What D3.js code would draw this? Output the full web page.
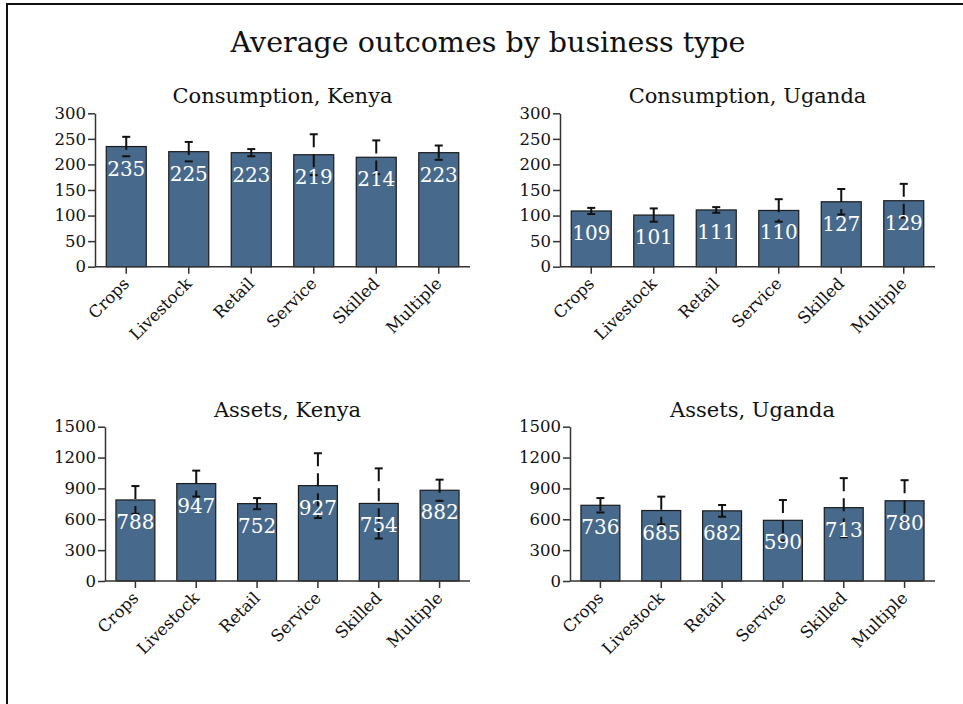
<!DOCTYPE html>
<html>
<head>
<meta charset="utf-8">
<script src="https://cdn.jsdelivr.net/npm/d3@7"></script>
<style>
  html, body { margin: 0; padding: 0; background: #fff; }
  svg { display: block; }
  text { font-family: "DejaVu Serif", "Liberation Serif", serif; fill: #111; }
</style>
</head>
<body>
<svg id="chart" width="963" height="704"></svg>
<script>
// Business types shown on every panel
const categories = ["Crops", "Livestock", "Retail", "Service", "Skilled", "Multiple"];

// Mean outcome per business type, with the half-width of its error bar
const consumptionKenya = [235, 225, 223, 219, 214, 223];
const consumptionKenyaErr = [19, 19, 7, 40, 33, 14];
const consumptionUganda = [109, 101, 111, 110, 127, 129];
const consumptionUgandaErr = [6, 13, 5.5, 22, 25, 33];
const assetsKenya = [788, 947, 752, 927, 754, 882];
const assetsKenyaErr = [135, 126, 54, 315, 341, 103];
const assetsUganda = [736, 685, 682, 590, 713, 780];
const assetsUgandaErr = [70, 135, 57, 197, 287, 200];

// Y-axis tick values
const consumptionTicks = [0, 50, 100, 150, 200, 250, 300];
const assetTicks = [0, 300, 600, 900, 1200, 1500];

const panelTitles = ["Consumption, Kenya", "Consumption, Uganda", "Assets, Kenya", "Assets, Uganda"];
const chartTitle = "Average outcomes by business type";

const svg = d3.select("#chart");
const barFill = "#476a8c";

// outer frame
svg.append("rect")
  .attr("x", 7).attr("y", 4).attr("width", 1100).attr("height", 1100)
  .attr("fill", "none").attr("stroke", "#111").attr("stroke-width", 2);

svg.append("text")
  .attr("x", 488).attr("y", 52)
  .attr("text-anchor", "middle")
  .style("font-size", "28.5px")
  .text(chartTitle);

const panels = [
  { title: panelTitles[0], values: consumptionKenya, errs: consumptionKenyaErr, ticks: consumptionTicks, x0: 95, x1: 470, yTop: 113.3, yBot: 266.7 },
  { title: panelTitles[1], values: consumptionUganda, errs: consumptionUgandaErr, ticks: consumptionTicks, x0: 560, x1: 935, yTop: 113.3, yBot: 266.7 },
  { title: panelTitles[2], values: assetsKenya, errs: assetsKenyaErr, ticks: assetTicks, x0: 105, x1: 470, yTop: 426.7, yBot: 581 },
  { title: panelTitles[3], values: assetsUganda, errs: assetsUgandaErr, ticks: assetTicks, x0: 570, x1: 935, yTop: 426.7, yBot: 581 }
];

panels.forEach(p => {
  const g = svg.append("g");
  const x = d3.scaleBand().domain(categories).range([p.x0, p.x1])
    .paddingInner(0.36).paddingOuter(0.18);
  const y = d3.scaleLinear().domain([0, d3.max(p.ticks)]).range([p.yBot, p.yTop]);

  // panel title
  g.append("text")
    .attr("x", (p.x0 + p.x1) / 2).attr("y", p.yTop - 10)
    .attr("text-anchor", "middle")
    .style("font-size", "21px")
    .text(p.title);

  // bars
  g.selectAll("rect.bar").data(categories).join("rect")
    .attr("class", "bar")
    .attr("x", d => x(d))
    .attr("width", x.bandwidth())
    .attr("y", (d, i) => y(p.values[i]))
    .attr("height", (d, i) => y(0) - y(p.values[i]))
    .attr("fill", barFill)
    .attr("stroke", "#1b1b1b")
    .attr("stroke-width", 1.2);

  // axes
  const yAxis = d3.axisLeft(y).tickValues(p.ticks).tickSize(7).tickSizeOuter(0).tickFormat(d3.format("d"));
  const ya = g.append("g").attr("transform", `translate(${p.x0},0)`).call(yAxis);
  const xAxis = d3.axisBottom(x).tickSize(7).tickSizeOuter(0);
  const xa = g.append("g").attr("transform", `translate(0,${p.yBot})`).call(xAxis);
  xa.select(".domain").attr("d", `M${p.x0},0H${p.x1}`);
  [ya, xa].forEach(a => {
    a.select(".domain").attr("stroke", "#333").attr("stroke-width", 1.5);
    a.selectAll(".tick line").attr("stroke", "#333").attr("stroke-width", 1.5);
  });
  ya.selectAll(".tick text").attr("x", -9).style("font-size", "16.5px").style("font-family", null).attr("fill", "#111");
  xa.selectAll(".tick text")
    .style("font-size", "16.5px").style("font-family", null).attr("fill", "#111")
    .attr("text-anchor", "end")
    .attr("x", 0).attr("y", 0).attr("dy", null)
    .attr("transform", "translate(4,18) rotate(-45)");

  // error bars
  const eb = g.selectAll("g.err").data(categories).join("g").attr("class", "err");
  const cx = d => x(d) + x.bandwidth() / 2;
  eb.append("line")
    .attr("x1", cx).attr("x2", cx)
    .attr("y1", (d, i) => y(p.values[i] + p.errs[i]))
    .attr("y2", (d, i) => y(p.values[i] - p.errs[i]))
    .attr("stroke", "#111").attr("stroke-width", 2)
    .attr("stroke-dasharray", "13,7");
  [1, -1].forEach(s => {
    eb.append("line")
      .attr("x1", d => cx(d) - 4).attr("x2", d => cx(d) + 4)
      .attr("y1", (d, i) => y(p.values[i] + s * p.errs[i]))
      .attr("y2", (d, i) => y(p.values[i] + s * p.errs[i]))
      .attr("stroke", "#111").attr("stroke-width", 2);
  });

  // value labels
  g.selectAll("text.val").data(categories).join("text")
    .attr("class", "val")
    .attr("x", cx)
    .attr("y", (d, i) => y(p.values[i]) + 29)
    .attr("text-anchor", "middle")
    .style("font-size", "20px")
    .style("fill", "#fff")
    .text((d, i) => p.values[i]);
});
</script>
</body>
</html>
